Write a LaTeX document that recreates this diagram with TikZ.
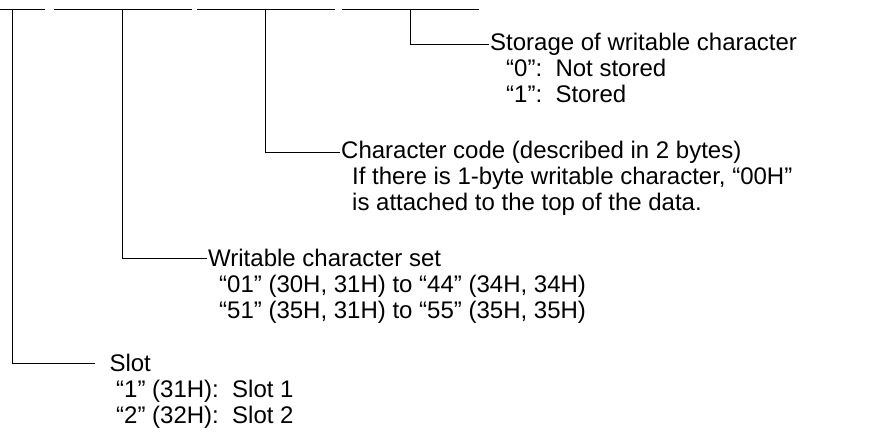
\documentclass[tikz,border=0pt]{standalone}
\usepackage{fontspec}
\setmainfont{Liberation Sans}
\usetikzlibrary{positioning}
\tikzset{
  bar/.style={line width=0.9pt},
  lead/.style={line width=0.9pt},
  head/.style={anchor=west, inner sep=1pt, font=\fontsize{24}{26}\selectfont},
  info/.style={anchor=base west, inner sep=0pt, font=\fontsize{24}{26}\selectfont},
}
\def\pitch{26pt}
\begin{document}
\begin{tikzpicture}[x=1pt, y=-1pt]
    \useasboundingbox (0,0) rectangle (878,446);

    % Field bars
    \draw[bar] (0,9) -- (45,9);
    \draw[bar] (54,9) -- (192,9);
    \draw[bar] (197,9) -- (335,9);
    \draw[bar] (342,9) -- (479,9);

    % Taps on the bars
    \coordinate (slottap)  at (12,9);
    \coordinate (settap)   at (122,9);
    \coordinate (codetap)  at (265,9);
    \coordinate (storetap) at (410,9);

    % Storage of writable character
    \node[head] (store) at (489,44) {Storage of writable character};
    \node[info] (storeA) at ([xshift=17pt,yshift=-\pitch]store.base west) {``0'':\ \ Not stored};
    \node[info] (storeB) at ([yshift=-\pitch]storeA.base west) {``1'':\ \ Stored};

    % Character code
    \node[head] (code) at (340,152) {Character code (described in 2 bytes)};
    \node[info] (codeA) at ([xshift=12pt,yshift=-\pitch]code.base west) {If there is 1-byte writable character, ``00H''};
    \node[info] (codeB) at ([yshift=-\pitch]codeA.base west) {is attached to the top of the data.};

    % Writable character set
    \node[head] (set) at (207,258) {Writable character set};
    \node[info] (setA) at ([xshift=12pt,yshift=-\pitch]set.base west) {``01'' (30H, 31H) to ``44'' (34H, 34H)};
    \node[info] (setB) at ([yshift=-\pitch]setA.base west) {``51'' (35H, 31H) to ``55'' (35H, 35H)};

    % Slot
    \node[head] (slot) at (95,363) {\ \ Slot};
    \node[info] (slotA) at ([xshift=21pt,yshift=-\pitch]slot.base west) {``1'' (31H):\ \ Slot 1};
    \node[info] (slotB) at ([yshift=-\pitch]slotA.base west) {``2'' (32H):\ \ Slot 2};

    % Leaders
    \draw[lead] (storetap) |- (store.west);
    \draw[lead] (codetap) |- (code.west);
    \draw[lead] (settap) |- (set.west);
    \draw[lead] (slottap) |- (slot.west);
\end{tikzpicture}
\end{document}
